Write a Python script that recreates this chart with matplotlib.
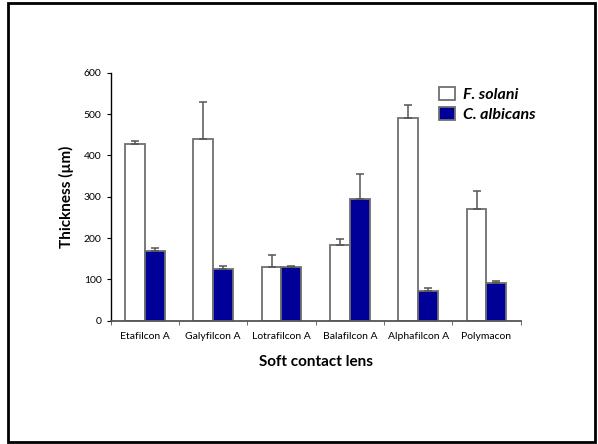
import matplotlib.pyplot as plt
import matplotlib.patches as mpatches
import numpy as np

plt.rcParams["font.family"] = ["Lato", "DejaVu Sans"]

lenses = ["Etafilcon A", "Galyfilcon A", "Lotrafilcon A", "Balafilcon A", "Alphafilcon A", "Polymacon"]
solani = [427, 439, 131, 182, 490, 270]
solani_err = [7, 90, 29, 16, 33, 43]
albicans = [169, 126, 129, 294, 73, 91]
albicans_err = [8, 6, 4, 62, 6, 6]

fig = plt.figure(figsize=(5.98, 4.44), dpi=100)
ax = fig.add_axes([0.185, 0.2777, 0.6856, 0.5586])

x = np.arange(len(lenses))
w = 0.29
edge = "#707070"
ax.bar(x - w / 2, solani, w, color="white", edgecolor=edge, linewidth=1.3,
       yerr=[np.zeros(len(solani)), solani_err], error_kw=dict(ecolor="#555555", elinewidth=1.1, capsize=3, capthick=1.1),
       label="F. solani", zorder=2)
ax.bar(x + w / 2, albicans, w, color="#000099", edgecolor=edge, linewidth=1.3,
       yerr=[np.zeros(len(albicans)), albicans_err], error_kw=dict(ecolor="#555555", elinewidth=1.1, capsize=3, capthick=1.1),
       label="C. albicans", zorder=2)

ax.set_xlim(-0.5, len(lenses) - 0.5)
ax.set_ylim(0, 600)
ax.set_yticks(range(0, 601, 100))
ax.set_xticks(x)
ax.set_xticklabels(lenses, fontsize=7.5)
ax.set_xticks(np.arange(-0.5, len(lenses)), minor=True)
ax.tick_params(axis="x", which="major", length=0, pad=8)
ax.tick_params(axis="x", which="minor", length=3, direction="out", color="#555555")
ax.tick_params(axis="y", labelsize=7.5, length=3, direction="out")

for s in ["top", "right"]:
    ax.spines[s].set_visible(False)
ax.spines["bottom"].set_color("#555555")
ax.spines["bottom"].set_linewidth(1.3)
ax.spines["left"].set_linewidth(1.0)

ax.set_ylabel("Thickness (\u00b5m)", fontsize=11, fontweight="bold", labelpad=7)
ax.set_xlabel("Soft contact lens", fontsize=11, fontweight="bold", labelpad=10)

leg = fig.legend(*ax.get_legend_handles_labels(), loc="upper left",
                 bbox_to_anchor=(439 / 598, 1 - 87 / 444), frameon=False,
                 prop=dict(size=11.5, weight="bold", style="italic"),
                 borderpad=0, borderaxespad=0,
                 handlelength=1.0, handleheight=0.85, handletextpad=0.5, labelspacing=0.35)

fig.patches.append(mpatches.Rectangle((8 / 598, 2 / 444), 587 / 598, 439 / 444, transform=fig.transFigure,
                                      fill=False, edgecolor="black", linewidth=2))

fig.savefig("out.png", dpi=100)
